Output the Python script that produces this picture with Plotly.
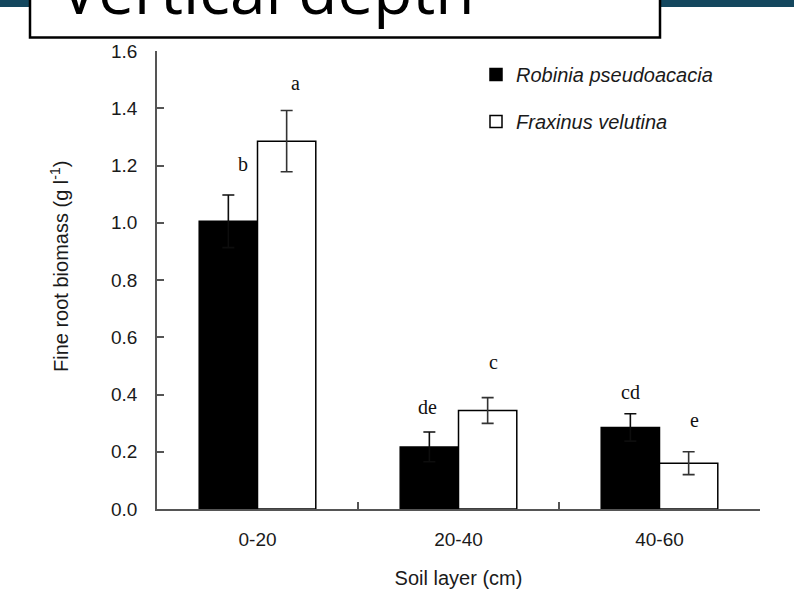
import plotly.graph_objects as go

# Soil layers and fine root biomass (g l-1), mean and error per species
categories = ["0-20", "20-40", "40-60"]
robinia = [1.005, 0.217, 0.285]
robinia_err = [0.092, 0.052, 0.048]
fraxinus = [1.285, 0.344, 0.160]
fraxinus_err = [0.107, 0.045, 0.040]

# Significance letters above each bar
robinia_letters = ["b", "de", "cd"]
fraxinus_letters = ["a", "c", "e"]

W, H = 794, 599
ML, MR, MT, MB = 157, 34, 51, 90
PW, PH = W - ML - MR, H - MT - MB


def px_x(px):
    return (px - ML) / PW


def px_y(py):
    return (H - MB - py) / PH


SANS = "Liberation Sans, Arial, sans-serif"
TICK_FONT = dict(family=SANS, size=19, color="#1a1a1a")
TITLE_FONT = dict(family=SANS, size=20, color="#1a1a1a")
AXIS_COLOR = "#555555"

fig = go.Figure()
fig.add_trace(go.Bar(
    x=categories, y=robinia, name="<i>Robinia pseudoacacia</i>",
    marker=dict(color="black", line=dict(color="black", width=1.5)),
    error_y=dict(type="data", array=robinia_err, color="#0d0d0d", thickness=1.6, width=6),
    legendgroup="r",
))
fig.add_trace(go.Bar(
    x=categories, y=fraxinus, name="<i>Fraxinus velutina</i>",
    marker=dict(color="white", line=dict(color="black", width=1.5)),
    error_y=dict(type="data", array=fraxinus_err, color="#333333", thickness=1.6, width=6),
    legendgroup="f",
))

letter_font = dict(family="Liberation Serif, Times New Roman, serif", size=20, color="#111111")
r_dx = [-0.072, -0.152, -0.144]
f_dx = [0.187, 0.172, 0.172]
r_lift = [0.108, 0.088, 0.077]
f_lift = [0.096, 0.126, 0.112]
for i in range(len(categories)):
    fig.add_annotation(x=i + r_dx[i], y=robinia[i] + robinia_err[i] + r_lift[i],
                       text=robinia_letters[i], showarrow=False, font=letter_font,
                       xanchor="center", yanchor="middle")
    fig.add_annotation(x=i + f_dx[i], y=fraxinus[i] + fraxinus_err[i] + f_lift[i],
                       text=fraxinus_letters[i], showarrow=False, font=letter_font,
                       xanchor="center", yanchor="middle")

# y-axis title
fig.add_annotation(xref="paper", yref="paper", x=px_x(59), y=px_y(267),
                   text="Fine root biomass (g l<sup>-1</sup>)", textangle=-90,
                   showarrow=False, font=TITLE_FONT,
                   xanchor="center", yanchor="middle")

# Header band and title box
fig.add_shape(type="rect", xref="paper", yref="paper",
              x0=px_x(0), x1=px_x(W), y0=px_y(7), y1=px_y(-2),
              fillcolor="#14475e", line=dict(width=0), layer="above")
fig.add_shape(type="rect", xref="paper", yref="paper",
              x0=px_x(30), x1=px_x(660), y0=px_y(37.5), y1=px_y(-10),
              fillcolor="white", line=dict(color="black", width=2.5), layer="above")
fig.add_annotation(xref="paper", yref="paper", x=px_x(58), y=px_y(35),
                   text="Vertical depth", showarrow=False, xanchor="left", yanchor="bottom",
                   font=dict(family="Open Sans, sans-serif", size=64, color="black"))

fig.update_layout(
    width=W, height=H,
    margin=dict(l=ML, r=MR, t=MT, b=MB),
    paper_bgcolor="white", plot_bgcolor="white",
    barmode="group", bargap=0.42, bargroupgap=0,
    legend=dict(x=px_x(476), y=px_y(55), xanchor="left", yanchor="top",
                font=dict(family=SANS, size=20, color="#1a1a1a"),
                bgcolor="rgba(0,0,0,0)", tracegroupgap=18),
    xaxis=dict(type="category", range=[-0.5, 2.5], tickson="boundaries",
               ticks="inside", ticklen=7, tickwidth=1.5, tickcolor=AXIS_COLOR,
               showline=True, linecolor=AXIS_COLOR, linewidth=1.5,
               showgrid=False, tickfont=TICK_FONT, ticklabelstandoff=12,
               title=dict(text="Soil layer (cm)", font=TITLE_FONT, standoff=22)),
    yaxis=dict(range=[0, 1.6], dtick=0.2, tickformat=".1f",
               ticks="inside", ticklen=7, tickwidth=1.5, tickcolor=AXIS_COLOR,
               showline=True, linecolor=AXIS_COLOR, linewidth=1.5,
               showgrid=False, zeroline=False, tickfont=TICK_FONT, ticklabelstandoff=14),
    showlegend=True,
)

fig.write_html("out.html")
